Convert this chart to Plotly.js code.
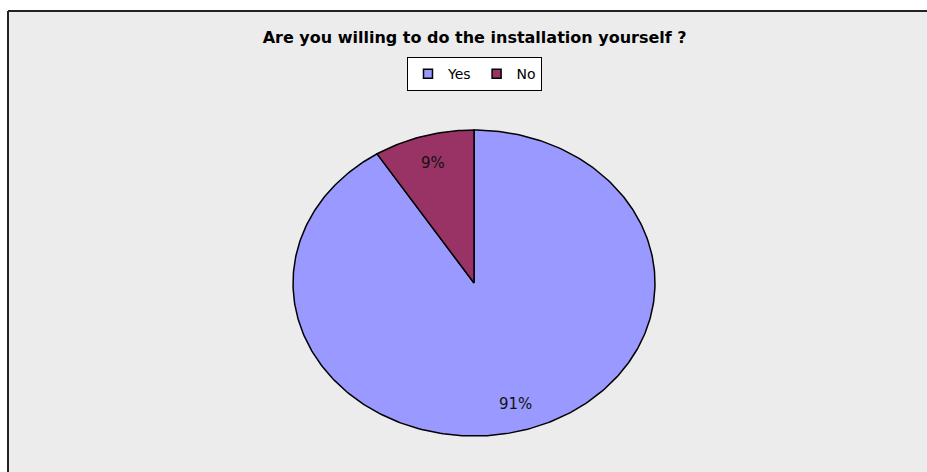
<!DOCTYPE html>
<html><head><meta charset="utf-8">
<script src="https://cdn.plot.ly/plotly-3.0.1.min.js"></script>
<style>html,body{margin:0;padding:0;background:#fff}</style></head>
<body><div id="chart" style="width:927px;height:472px"></div>
<script>
const categories = ["Yes", "No"];
const values = [91, 9];
const sliceColors = ["#9999ff", "#993366"];
const titleText = "Are you willing to do the installation yourself ?";

const FONT = "DejaVu Sans, Liberation Sans, Arial, sans-serif";
const total = values.reduce((a, b) => a + b, 0);
const traces = [];
const annotations = [];
let start = 0;
const STEPS = 360;
values.forEach((v, i) => {
  const frac = v / total;
  const a0 = start * 2 * Math.PI, a1 = (start + frac) * 2 * Math.PI;
  const xs = [0], ys = [0];
  const n = Math.max(2, Math.ceil(STEPS * frac));
  for (let k = 0; k <= n; k++) {
    const a = a0 + (a1 - a0) * k / n;
    xs.push(Math.sin(a)); ys.push(Math.cos(a));
  }
  xs.push(0); ys.push(0);
  traces.push({
    type: "scatter", mode: "lines", x: xs, y: ys, fill: "toself",
    fillcolor: sliceColors[i], line: {color: "#000", width: 1.5},
    showlegend: false, hoverinfo: "skip"
  });
  const mid = (a0 + a1) / 2, r = 0.82;
  annotations.push({
    x: r * Math.sin(mid), y: r * Math.cos(mid), xref: "x", yref: "y",
    text: Math.round(frac * 100) + "%", showarrow: false,
    font: {family: FONT, size: 15, color: "#111"}
  });
  start += frac;
});
categories.forEach((c, i) => {
  traces.push({
    type: "scatter", mode: "markers", x: [null], y: [null], name: c,
    marker: {symbol: "square", size: 9, color: sliceColors[i], line: {color: "#000", width: 1.5}},
    showlegend: true, hoverinfo: "skip"
  });
});

const layout = {
  width: 927, height: 472,
  margin: {l: 8, r: 0, t: 11, b: 0},
  paper_bgcolor: "#ffffff", plot_bgcolor: "#ececec",
  font: {family: FONT, color: "#000"},
  title: {text: titleText, x: 0.512, xanchor: "center", y: 0.921, yanchor: "middle",
          font: {family: FONT, size: 16, weight: 700, color: "#000"}},
  xaxis: {range: [-2.575, 2.503], visible: false, fixedrange: true},
  yaxis: {range: [-1.235, 1.778], visible: false, fixedrange: true},
  showlegend: true,
  legend: {orientation: "h", x: 0.5076, xanchor: "center", y: 0.9, yanchor: "top",
           bgcolor: "#ffffff", bordercolor: "#000", borderwidth: 1,
           font: {family: FONT, size: 14, color: "#000"}, itemwidth: 30, traceorder: "normal"},
  annotations: annotations,
  shapes: [
    {type: "line", xref: "paper", yref: "paper", x0: 0, x1: 0, y0: 0, y1: 1, line: {color: "#222", width: 2}},
    {type: "line", xref: "paper", yref: "paper", x0: 0, x1: 1, y0: 1, y1: 1, line: {color: "#222", width: 2}}
  ]
};
Plotly.newPlot("chart", traces, layout, {displayModeBar: false, staticPlot: true});
</script></body></html>
